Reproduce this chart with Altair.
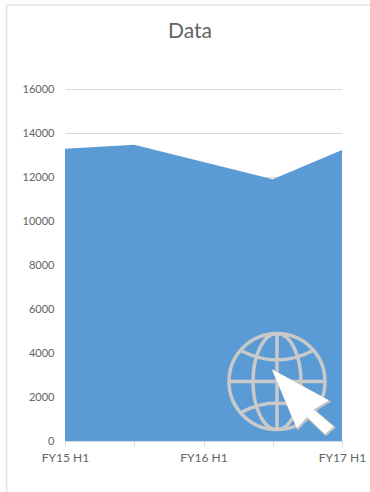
import altair as alt
import pandas as pd

periods = ["FY15 H1", "FY15 H2", "FY16 H1", "FY16 H2", "FY17 H1"]
values = [13280, 13470, 12680, 11900, 13230]
labelled_periods = ["FY15 H1", "FY16 H1", "FY17 H1"]
y_ticks = [0, 2000, 4000, 6000, 8000, 10000, 12000, 14000, 16000]
chart_title = ["Data"]

GREY_TEXT = "#636363"
GRID = "#d9d9d9"
BLUE = "#5b9bd5"
FONT = "Lato"

# Globe and pointer outlines, in pixels around the symbol's centre
GLOBE = (
    "M-48,0A48,48,0,1,1,48,0A48,48,0,1,1,-48,0Z"
    "M-24,0A24,48,0,1,1,24,0A24,48,0,1,1,-24,0Z"
    "M0,-48L0,48M-48,0L48,0"
    "M-36,-31Q0,-12,36,-31M-36,31Q0,12,36,31"
)
POINTER = "M-4,-11L51,19L36,28L56,45L48,52L30,35L20,46Z"

source = pd.DataFrame({"period": periods, "value": values})

x_axis = alt.Axis(
    title=None, grid=False, labelAngle=0, labelFont=FONT, labelFontSize=12,
    labelColor=GREY_TEXT, labelPadding=6, labelOverlap=False, labelBound=False,
    labelFlush=False, tickSize=5, tickColor=GRID, domainColor=GRID, domainWidth=1,
    labelExpr="indexof(" + str(labelled_periods) + ", datum.value) >= 0 ? datum.value : ''",
)
y_axis = alt.Axis(
    title=None, values=y_ticks, format="d", domain=False, ticks=False,
    labelFont=FONT, labelFontSize=11, labelColor=GREY_TEXT, labelPadding=11,
    gridColor=GRID, gridWidth=1,
)

area = alt.Chart(source).mark_area(color=BLUE, opacity=1).encode(
    x=alt.X("period:N", sort=periods, axis=x_axis,
            scale=alt.Scale(type="point", padding=0)),
    y=alt.Y("value:Q", axis=y_axis, scale=alt.Scale(domain=[0, 16000])),
)

icon_anchor = pd.DataFrame({"icon": ["web"]})


def icon(shape, dx=0, dy=0, **style):
    return alt.Chart(icon_anchor).mark_point(shape=shape, size=4, opacity=1, **style).encode(
        x=alt.value(212 + dx), y=alt.value(292.5 + dy)
    )


globe = icon(GLOBE, filled=False, stroke="#c9c9c9", strokeWidth=3.5)
pointer_edge = icon(POINTER, dx=1, dy=1, filled=True, fill="#c2c2c2", stroke="#c2c2c2", strokeWidth=2.5)
pointer = icon(POINTER, filled=True, fill="#ffffff", stroke="#ffffff", strokeWidth=1)

# Card outline along the left and top of the chart
frame_left = alt.Chart(icon_anchor).mark_rule(color="#e4e4e4", strokeWidth=1.5).encode(
    x=alt.value(-58.5), y=alt.value(-84), y2=alt.value(403)
)
frame_top = alt.Chart(icon_anchor).mark_rule(color="#e4e4e4", strokeWidth=1.5).encode(
    y=alt.value(-84), x=alt.value(-58.5), x2=alt.value(305)
)

title = alt.Chart(pd.DataFrame({"label": chart_title})).mark_text(
    font=FONT, fontSize=21, color=GREY_TEXT, align="center", baseline="alphabetic"
).encode(x=alt.value(125), y=alt.value(-51), text="label:N")

chart = (
    alt.layer(area, globe, pointer_edge, pointer, frame_left, frame_top, title)
    .properties(
        width=277,
        height=352,
        padding={"left": 65, "top": 89, "right": 28, "bottom": 51},
        autosize="none",
        background="white",
    )
    .configure_view(stroke=None)
)

chart.save("out.html", embed_options={"renderer": "svg", "actions": False})
